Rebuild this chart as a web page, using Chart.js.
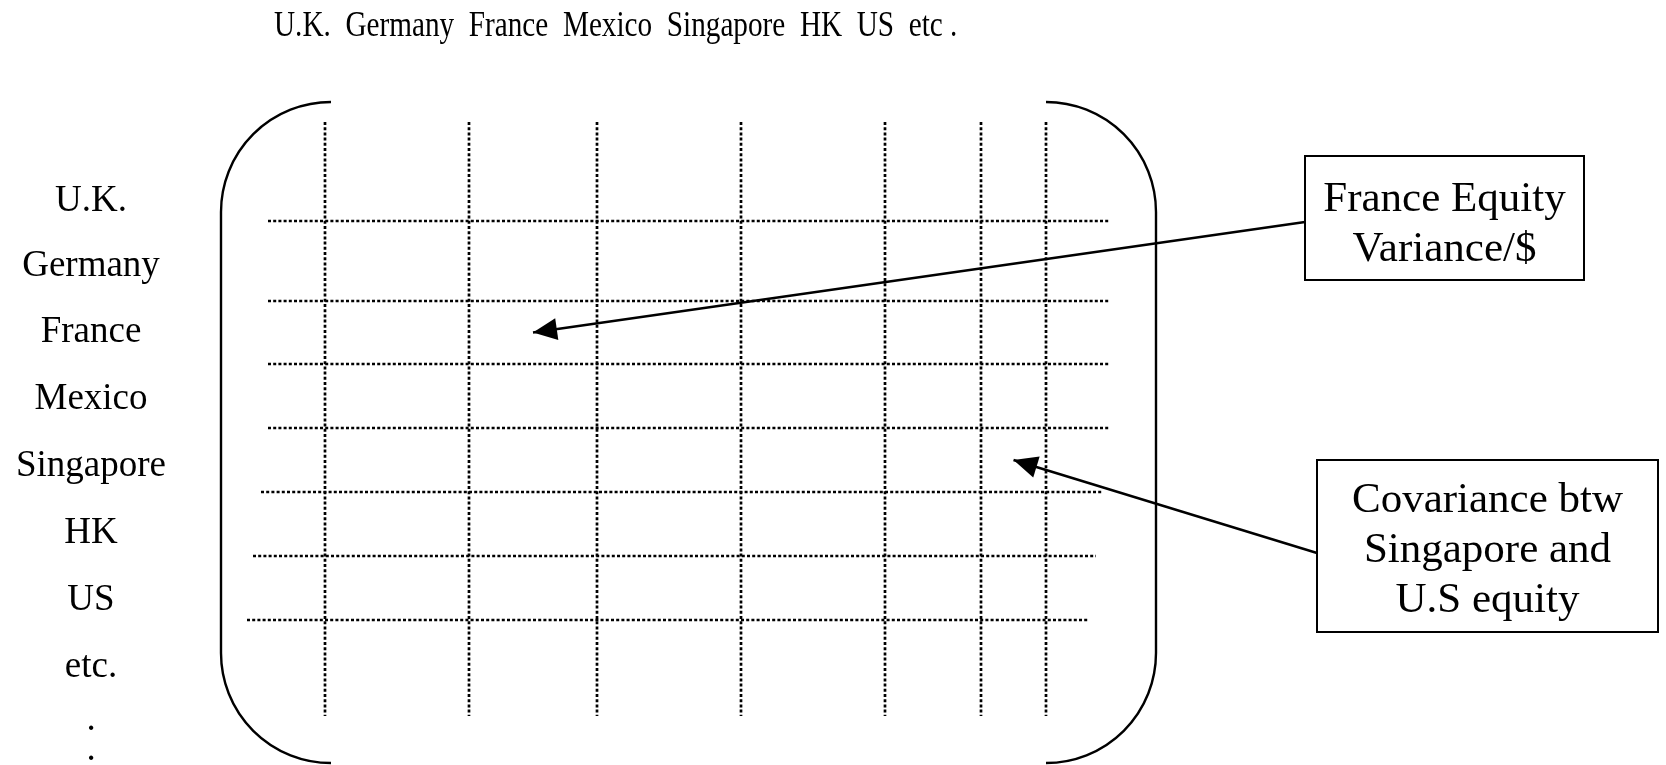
<!DOCTYPE html>
<html>
<head>
<meta charset="utf-8">
<title>Covariance matrix sketch</title>
<script src="https://cdn.jsdelivr.net/npm/chart.js@4.4.0/dist/chart.umd.min.js"></script>
<style>
    html, body { margin: 0; padding: 0; background: #fff; }
    #wrap { width: 1666px; height: 765px; }
</style>
</head>
<body>
<div id="wrap"><canvas id="matrix" width="1666" height="765"></canvas></div>
<script>
// Header and row names of the matrix
const colNames = ['U.K.', 'Germany', 'France', 'Mexico', 'Singapore', 'HK', 'US', 'etc .'];
const rowNames = ['U.K.', 'Germany', 'France', 'Mexico', 'Singapore', 'HK', 'US', 'etc.', '.', '.'];

// Grid edges, in sheet units (1 unit = 1 px of the 1666 x 765 sheet)
const colEdges = [325, 469, 597, 741, 885, 981, 1046];
const rowEdges = [221, 301, 364, 428, 492, 556, 620];
const rowLineStart = [268, 268, 268, 268, 261, 253, 247];
const rowLineEnd = [1110, 1110, 1110, 1110, 1103, 1096, 1088];

// Callouts: text lines and the cell they point at [row, column]
const calloutLines = [
    ['France Equity', 'Variance/$'],
    ['Covariance btw', 'Singapore and', 'U.S equity'],
];
const calloutTargets = [
    ['France', 'France'],
    ['Singapore', 'US'],
];

const LAYOUT = {
    width: 1666,
    height: 765,
    colLineTop: 122,
    colLineBottom: 716,
    gridLeft: 203,
    gridRight: 1110,
    gridTop: 122,
    gridBottom: 716,
    headerX: 274,
    headerBaseline: 36,
    headerStretch: 0.835,
    rowLabelX: 91,
    rowLabelBaseline: [211, 276, 342, 409, 476, 543, 610, 677, 730, 760],
    bracket: { top: 102, bottom: 763, left: 221, right: 1156, radius: 110 },
    boxes: [
        { x: 1305, y: 156, w: 279, h: 124, baseline: 211, from: { x: 1305, y: 222 } },
        { x: 1317, y: 460, w: 341, h: 172, baseline: 512, from: { x: 1317, y: 553 } },
    ],
    lineGap: 50,
};

const FONT_FAMILY = '"Liberation Serif", "Times New Roman", serif';
const INK = '#000';

function cellCenter(row, col) {
    const xs = [LAYOUT.gridLeft, ...colEdges, LAYOUT.gridRight];
    const ys = [LAYOUT.gridTop, ...rowEdges, LAYOUT.gridBottom];
    const c = colNames.findIndex(n => n.replace(/ \.$/, '') === col);
    const r = rowNames.indexOf(row);
    return { x: (xs[c] + xs[c + 1]) / 2, y: (ys[r] + ys[r + 1]) / 2 };
}

const dotted = {
    borderColor: INK,
    borderWidth: 2.7,
    borderDash: [3, 2.2],
    borderCapStyle: 'butt',
    pointRadius: 0,
    showLine: true,
    fill: false,
    tension: 0,
};

const datasets = [
    ...colEdges.map(x => ({
        ...dotted,
        data: [{ x, y: LAYOUT.colLineTop }, { x, y: LAYOUT.colLineBottom }],
    })),
    ...rowEdges.map((y, i) => ({
        ...dotted,
        data: [{ x: rowLineStart[i], y }, { x: rowLineEnd[i], y }],
    })),
    ...LAYOUT.boxes.map((box, k) => ({
        borderColor: INK,
        borderWidth: 2.4,
        pointRadius: 0,
        showLine: true,
        fill: false,
        arrow: true,
        data: [box.from, cellCenter(...calloutTargets[k])],
    })),
];

// Brackets, labels, callout boxes and arrow heads
const decorPlugin = {
    id: 'decor',
    afterDatasetsDraw(chart) {
        const { ctx, scales: { x, y } } = chart;
        const px = v => x.getPixelForValue(v);
        const py = v => y.getPixelForValue(v);
        ctx.save();

        // matrix brackets
        const b = LAYOUT.bracket;
        ctx.strokeStyle = INK;
        ctx.lineWidth = 2.4;
        [[b.left, b.left + b.radius], [b.right, b.right - b.radius]].forEach(([edge, arm]) => {
            ctx.beginPath();
            ctx.moveTo(px(arm), py(b.top));
            ctx.arcTo(px(edge), py(b.top), px(edge), py(b.bottom), b.radius);
            ctx.arcTo(px(edge), py(b.bottom), px(arm), py(b.bottom), b.radius);
            ctx.lineTo(px(arm), py(b.bottom));
            ctx.stroke();
        });

        ctx.fillStyle = INK;
        ctx.textBaseline = 'alphabetic';

        // header row, set as one condensed line
        ctx.save();
        ctx.font = `35px ${FONT_FAMILY}`;
        ctx.textAlign = 'left';
        ctx.translate(px(LAYOUT.headerX), py(LAYOUT.headerBaseline));
        ctx.scale(LAYOUT.headerStretch, 1);
        ctx.fillText(colNames.join('  '), 0, 0);
        ctx.restore();

        // row labels
        ctx.textAlign = 'center';
        ctx.font = `37px ${FONT_FAMILY}`;
        rowNames.forEach((name, i) => {
            ctx.fillText(name, px(LAYOUT.rowLabelX), py(LAYOUT.rowLabelBaseline[i]));
        });

        // callout boxes
        ctx.font = `43px ${FONT_FAMILY}`;
        ctx.lineWidth = 2;
        LAYOUT.boxes.forEach((box, k) => {
            ctx.fillStyle = '#fff';
            ctx.fillRect(px(box.x), py(box.y), box.w, box.h);
            ctx.strokeRect(px(box.x), py(box.y), box.w, box.h);
            ctx.fillStyle = INK;
            calloutLines[k].forEach((line, j) => {
                ctx.fillText(line, px(box.x + box.w / 2), py(box.baseline + j * LAYOUT.lineGap));
            });
        });

        // arrow heads at the end of each arrow line
        chart.data.datasets.forEach((ds, i) => {
            if (!ds.arrow) return;
            const pts = chart.getDatasetMeta(i).data;
            const tail = pts[0], tip = pts[pts.length - 1];
            const ang = Math.atan2(tip.y - tail.y, tip.x - tail.x);
            const len = 24, half = 11;
            ctx.beginPath();
            ctx.moveTo(tip.x, tip.y);
            ctx.lineTo(tip.x - len * Math.cos(ang) + half * Math.sin(ang),
                       tip.y - len * Math.sin(ang) - half * Math.cos(ang));
            ctx.lineTo(tip.x - len * Math.cos(ang) - half * Math.sin(ang),
                       tip.y - len * Math.sin(ang) + half * Math.cos(ang));
            ctx.closePath();
            ctx.fill();
        });

        ctx.restore();
    },
};

new Chart(document.getElementById('matrix').getContext('2d'), {
    type: 'scatter',
    data: { datasets },
    options: {
        responsive: false,
        animation: false,
        events: [],
        layout: { padding: 0 },
        plugins: {
            legend: { display: false },
            tooltip: { enabled: false },
        },
        scales: {
            x: { type: 'linear', min: 0, max: LAYOUT.width, display: false },
            y: { type: 'linear', min: 0, max: LAYOUT.height, reverse: true, display: false },
        },
    },
    plugins: [decorPlugin],
});
</script>
</body>
</html>
